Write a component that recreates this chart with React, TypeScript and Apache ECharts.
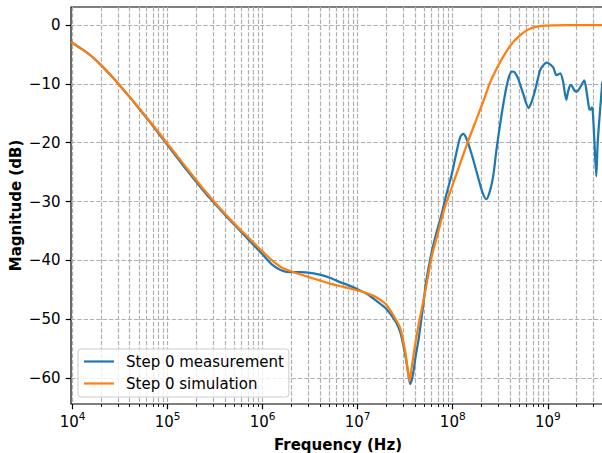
import React, { useEffect, useRef } from "react";
import * as echarts from "echarts";

// ---- data ----
const measFreq = [
  9.64e3, 1.0e4, 1.259e4, 1.585e4, 1.995e4, 2.512e4, 3.162e4, 3.981e4, 5.012e4, 6.31e4, 7.943e4,
  1.0e5, 1.259e5, 1.585e5, 1.995e5, 2.512e5, 3.162e5, 3.981e5, 5.012e5, 6.31e5, 7.943e5,
  1.0e6, 1.259e6, 1.585e6, 1.995e6, 2.512e6, 3.162e6, 3.981e6, 5.012e6, 6.31e6, 7.943e6,
  1.0e7, 1.259e7, 1.585e7, 1.995e7, 2.512e7, 2.818e7, 3.162e7, 3.388e7, 3.573e7, 3.802e7,
  4.074e7, 4.365e7, 4.677e7, 5.012e7, 5.248e7, 6.026e7, 6.761e7, 7.379e7, 8.511e7, 9.817e7,
  1.096e8, 1.202e8, 1.288e8, 1.387e8, 1.585e8, 1.8e8, 2.042e8, 2.254e8, 2.483e8, 2.692e8,
  2.884e8, 3.162e8, 3.548e8, 3.89e8, 4.198e8, 4.467e8, 4.898e8, 5.495e8, 6.28e8, 6.839e8,
  7.379e8, 8.337e8, 9.12e8, 9.817e8, 1.081e9, 1.151e9, 1.227e9, 1.288e9, 1.355e9, 1.445e9,
  1.567e9, 1.641e9, 1.726e9, 1.82e9, 1.905e9, 2.028e9, 2.188e9, 2.421e9, 2.57e9, 2.723e9,
  2.8e9, 2.917e9, 2.965e9, 3.09e9, 3.236e9, 3.35e9, 3.508e9, 3.631e9, 3.75e9,
];
const measDb = [
  -2.9, -3.05, -4.1, -5.3, -6.8, -8.5, -10.3, -12.2, -14.2, -16.2, -18.3,
  -20.4, -22.5, -24.6, -26.6, -28.6, -30.4, -32.2, -33.9, -35.6, -37.3,
  -39.0, -40.7, -41.7, -42.0, -42.0, -42.1, -42.4, -42.9, -43.6, -44.2,
  -44.9, -45.7, -46.9, -48.2, -50.4, -52.3, -56.0, -59.0, -61.0, -59.5,
  -56.3, -53.5, -50.0, -46.3, -43.6, -38.5, -35.2, -33.1, -29.0, -25.2,
  -21.6, -19.0, -18.5, -19.2, -22.0, -25.2, -28.3, -29.6, -28.0, -25.2,
  -21.2, -16.7, -11.8, -8.9, -7.9, -8.0, -9.2, -11.6, -14.1, -12.8,
  -11.0, -7.6, -6.7, -6.4, -6.8, -7.3, -8.5, -8.4, -8.2, -9.5,
  -12.7, -11.2, -10.2, -10.5, -11.1, -11.3, -10.6, -9.4, -11.5, -14.2,
  -14.4, -14.0, -14.3, -19.5, -25.7, -20.0, -15.5, -12.5, -9.6,
];
const simFreq = [
  9.64e3, 1.0e4, 1.259e4, 1.585e4, 1.995e4, 2.512e4, 3.162e4, 3.981e4, 5.012e4, 6.31e4, 7.943e4,
  1.0e5, 1.259e5, 1.585e5, 1.995e5, 2.512e5, 3.162e5, 3.981e5, 5.012e5, 6.31e5, 7.943e5,
  1.0e6, 1.259e6, 1.585e6, 1.995e6, 2.512e6, 3.162e6, 3.981e6, 5.012e6, 6.31e6, 7.943e6,
  1.0e7, 1.259e7, 1.585e7, 1.995e7, 2.512e7, 2.818e7, 3.162e7, 3.388e7, 3.508e7, 3.715e7,
  3.981e7, 4.365e7, 4.786e7, 5.248e7, 6.026e7, 7.079e7, 8.318e7, 9.772e7, 1.175e8, 1.445e8,
  1.778e8, 2.138e8, 2.438e8, 2.818e8, 3.388e8, 4.169e8, 5.129e8, 6.026e8, 7.079e8, 8.913e8,
  1.122e9, 1.585e9, 2.512e9, 3.981e9,
];
const simDb = [
  -2.9, -3.05, -4.1, -5.3, -6.8, -8.5, -10.3, -12.2, -14.1, -16.1, -18.1,
  -20.2, -22.2, -24.3, -26.3, -28.3, -30.2, -32.0, -33.7, -35.3, -36.9,
  -38.5, -40.0, -41.2, -41.85, -42.4, -42.9, -43.4, -43.9, -44.3, -44.7,
  -45.1, -45.6, -46.3, -47.5, -50.0, -51.6, -55.5, -59.0, -60.5, -58.0,
  -54.8, -51.0, -47.8, -44.5, -39.3, -35.0, -30.8, -27.6, -23.9, -19.8,
  -16.0, -12.6, -10.0, -7.8, -5.4, -3.2, -1.7, -0.9, -0.4, -0.15,
  -0.06, -0.02, -0.01, 0.0,
];
const decadeTicks = [1e4, 1e5, 1e6, 1e7, 1e8, 1e9];
const minorMultipliers = [2, 3, 4, 5, 6, 7, 8, 9];
const yTicks = [-60, -50, -40, -30, -20, -10, 0];
const seriesNames = ["Step 0 measurement", "Step 0 simulation"];
const colors = ["#1f77b4", "#ff7f0e"];

const X_MIN = 9.64e3;
const X_MAX = 4e9;
const Y_MIN = -64.4;
const Y_MAX = 3.07;

const minorTicks: number[] = [];
for (const d of [1e3, ...decadeTicks]) {
  for (const m of minorMultipliers) {
    const v = d * m;
    if (v > X_MIN && v < X_MAX) minorTicks.push(v);
  }
}

const FONT = "DejaVu Sans";
const gridLine = { show: true, lineStyle: { color: "#b0b0b0", width: 1.2, type: [4.4, 1.9] as any } };

export default function App() {
  const ref = useRef<HTMLDivElement>(null);
  useEffect(() => {
    if (!ref.current) return;
    const chart = echarts.init(ref.current, undefined, { renderer: "svg" });
    const meas = measFreq.map((f, i) => [f, measDb[i]]);
    const sim = simFreq.map((f, i) => [f, simDb[i]]);
    chart.setOption({
      animation: false,
      textStyle: { fontFamily: FONT },
      grid: {
        left: 71,
        top: 7,
        right: -3,
        bottom: 49,
        containLabel: false,
        outerBoundsMode: "none",
        show: true,
        borderColor: "#000",
        borderWidth: 1.2,
        backgroundColor: "transparent",
      },
      legend: {
        left: 78,
        top: 349,
        orient: "vertical",
        icon: "rect",
        itemWidth: 30,
        itemHeight: 2.2,
        itemGap: 7,
        padding: [5, 5, 6, 6],
        backgroundColor: "rgba(255,255,255,0.8)",
        borderColor: "#cccccc",
        borderWidth: 1,
        borderRadius: 3,
        textStyle: { fontFamily: FONT, fontSize: 15, lineHeight: 15, color: "#000", padding: [0, 0, 0, 7] },
        data: seriesNames,
      },
      xAxis: [
        {
          type: "log",
          logBase: 10,
          min: X_MIN,
          max: X_MAX,
          position: "bottom",
          axisLine: { show: false, onZero: false },
          axisTick: { show: true, customValues: decadeTicks, length: 5.25, lineStyle: { color: "#000", width: 1.2 } },
          axisLabel: {
            customValues: decadeTicks,
            margin: 6,
            color: "#000",
            formatter: (v: number) => `{b|10}{s|${Math.round(Math.log10(v))}}`,
            rich: {
              b: { fontFamily: FONT, fontSize: 15, lineHeight: 23, color: "#000" },
              s: { fontFamily: FONT, fontSize: 10.5, lineHeight: 10.5, verticalAlign: "top", color: "#000" },
            },
          },
          splitLine: gridLine,
          name: "Frequency (Hz)",
          nameLocation: "middle",
          nameGap: 33,
          nameTextStyle: { fontFamily: FONT, fontSize: 15, fontWeight: "bold", color: "#000" },
        },
        {
          type: "log",
          logBase: 10,
          min: X_MIN,
          max: X_MAX,
          position: "bottom",
          axisLine: { show: false, onZero: false },
          axisTick: { show: true, customValues: minorTicks, length: 3, lineStyle: { color: "#000", width: 0.9 } },
          axisLabel: { show: false },
          splitLine: gridLine,
        },
      ],
      yAxis: {
        type: "value",
        min: Y_MIN,
        max: Y_MAX,
        axisLine: { show: false, onZero: false },
        axisTick: { show: true, customValues: yTicks, length: 5.25, lineStyle: { color: "#000", width: 1.2 } },
        axisLabel: {
          customValues: yTicks,
          margin: 10.5,
          fontFamily: FONT,
          fontSize: 15,
          color: "#000",
          formatter: (v: number) => String(v).replace("-", "\u2212"),
        },
        splitLine: gridLine,
        name: "Magnitude (dB)",
        nameLocation: "middle",
        nameGap: 48,
        nameMoveOverlap: false,
        nameTextStyle: { fontFamily: FONT, fontSize: 15, fontWeight: "bold", color: "#000" },
      },
      series: [
        {
          name: seriesNames[0],
          type: "line",
          xAxisIndex: 0,
          data: meas,
          showSymbol: false,
          symbol: "none",
          smooth: 0.25,
          lineStyle: { color: colors[0], width: 2.25 },
          itemStyle: { color: colors[0] },
          z: 3,
        },
        {
          name: seriesNames[1],
          type: "line",
          xAxisIndex: 0,
          data: sim,
          showSymbol: false,
          symbol: "none",
          smooth: 0.25,
          lineStyle: { color: colors[1], width: 2.25 },
          itemStyle: { color: colors[1] },
          z: 4,
        },
      ],
    });
    return () => chart.dispose();
  }, []);
  return (
    <div
      ref={ref}
      style={{ position: "fixed", left: 0, top: 0, width: 602, height: 453, background: "#fff" }}
    />
  );
}
